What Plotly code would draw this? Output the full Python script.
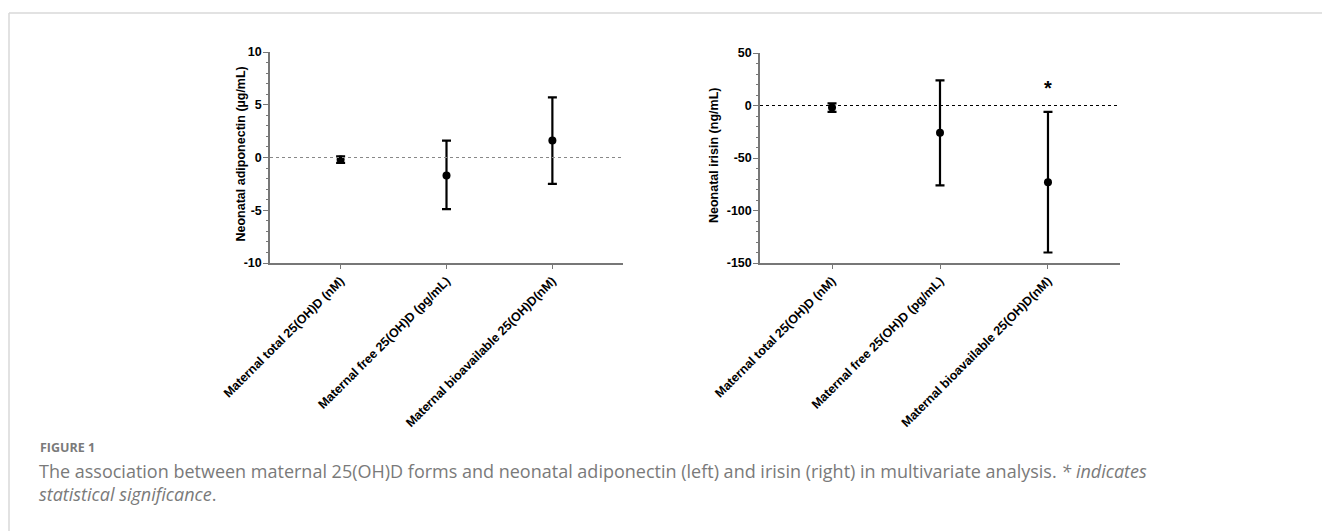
import plotly.graph_objects as go

W, H = 1322, 531

categories = ["Maternal total 25(OH)D (nM)", "Maternal free 25(OH)D (pg/mL)", "Maternal bioavailable 25(OH)D(nM)"]

adipo_est = [-0.2, -1.7, 1.6]
adipo_low = [-0.5, -4.9, -2.5]
adipo_high = [0.1, 1.6, 5.7]

irisin_est = [-2, -26, -73]
irisin_low = [-6, -76, -140]
irisin_high = [2, 24, -6]

star_y = 17

def px_x(p):
    return p / W

def px_y(p):
    return 1 - p / H

fig = go.Figure()

def add_series(est, low, high, xa, ya):
    fig.add_trace(go.Scatter(
        x=list(range(len(est))), y=est, mode="markers",
        marker=dict(color="black", size=8),
        error_y=dict(type="data", symmetric=False,
                     array=[h - e for h, e in zip(high, est)],
                     arrayminus=[e - l for e, l in zip(est, low)],
                     color="black", thickness=2.2, width=4.5),
        xaxis=xa, yaxis=ya, showlegend=False, hoverinfo="skip"))

add_series(adipo_est, adipo_low, adipo_high, "x", "y")
add_series(irisin_est, irisin_low, irisin_high, "x2", "y2")

axis_font = dict(family="Arial, Liberation Sans, sans-serif", size=12.5, color="black")
xcommon = dict(tickmode="array", tickvals=[0, 1, 2], ticktext=[f"<b>{c}</b>" for c in categories],
               tickangle=-45, range=[-0.667, 2.667], showgrid=False, zeroline=False,
               showline=True, linecolor="#777", linewidth=1.5, ticks="outside",
               ticklen=4, tickcolor="#777", tickfont=axis_font, automargin=False)
ycommon = dict(showgrid=False, zeroline=False, showline=True, linecolor="#777", linewidth=1.5,
               ticks="outside", ticklen=5, tickcolor="#777", tickfont=axis_font, automargin=False,
               ticklabelstandoff=-1)

Y_TOP_L, Y_TOP_R, Y_BOT = 52, 53, 263

fig.update_layout(
    width=W, height=H, margin=dict(l=0, r=0, t=0, b=0, autoexpand=False),
    paper_bgcolor="white", plot_bgcolor="white",
    xaxis=dict(domain=[px_x(270), px_x(623)], anchor="y", **xcommon),
    yaxis=dict(domain=[px_y(Y_BOT), px_y(Y_TOP_L)], anchor="x", range=[-10, 10],
               tickvals=[-10, -5, 0, 5, 10], ticktext=["<b>-10</b>", "<b>-5</b>", "<b>0</b>", "<b>5</b>", "<b>10</b>"],
               minor=dict(dtick=1, ticks="outside", ticklen=2, tickcolor="#777"),
               **ycommon),
    xaxis2=dict(domain=[px_x(760), px_x(1120)], anchor="y2", **xcommon),
    yaxis2=dict(domain=[px_y(Y_BOT), px_y(Y_TOP_R)], anchor="x2", range=[-150, 50],
                tickvals=[-150, -100, -50, 0, 50], ticktext=["<b>-150</b>", "<b>-100</b>", "<b>-50</b>", "<b>0</b>", "<b>50</b>"],
                minor=dict(dtick=10, ticks="outside", ticklen=2, tickcolor="#777"),
                **ycommon),
)

# y-axis titles
fig.add_annotation(x=px_x(240), y=px_y((Y_BOT + Y_TOP_L) / 2 - 3), xref="paper", yref="paper",
                   text="<b>Neonatal adiponectin (µg/mL)</b>", textangle=-90, showarrow=False,
                   xanchor="center", yanchor="middle", font=axis_font)
fig.add_annotation(x=px_x(714), y=px_y((Y_BOT + Y_TOP_R) / 2 - 3), xref="paper", yref="paper",
                   text="<b>Neonatal irisin (ng/mL)</b>", textangle=-90, showarrow=False,
                   xanchor="center", yanchor="middle", font=axis_font)

# zero reference lines
fig.add_shape(type="line", xref="x domain", yref="y", x0=0, x1=1, y0=0, y1=0,
              line=dict(color="#888", width=1.2, dash="dot"))
fig.add_shape(type="line", xref="x2 domain", yref="y2", x0=0, x1=1, y0=0, y1=0,
              line=dict(color="black", width=1.2, dash="dot"))

# significance star
fig.add_annotation(x=2, y=star_y, xref="x2", yref="y2", text="<b>*</b>", showarrow=False,
                   font=dict(family="Arial, Liberation Sans, sans-serif", size=20, color="black"))

# frame lines
fig.add_shape(type="line", xref="paper", yref="paper", x0=px_x(9), x1=1, y0=px_y(13), y1=px_y(13),
              line=dict(color="#d9d9d9", width=1.5))
fig.add_shape(type="line", xref="paper", yref="paper", x0=px_x(9), x1=px_x(9), y0=px_y(13), y1=0,
              line=dict(color="#d9d9d9", width=1.5))

cap_font = dict(family="Open Sans, sans-serif", size=18, color="#7a7a7a")
fig.add_annotation(x=px_x(39), y=px_y(447), xref="paper", yref="paper", xanchor="left", yanchor="middle",
                   text="<b>FIGURE 1</b>", showarrow=False, borderpad=0,
                   font=dict(family="Open Sans, sans-serif", size=12.5, color="#7a7a7a"))
fig.add_annotation(x=px_x(38), y=px_y(482), xref="paper", yref="paper", xanchor="left", yanchor="middle",
                   align="left", borderpad=0,
                   text="The association between maternal 25(OH)D forms and neonatal adiponectin (left) and irisin (right) in multivariate analysis. <i>* indicates</i><br><i>statistical significance</i>.",
                   showarrow=False, font=cap_font)

fig.write_html("out.html", config={"displayModeBar": False},
               post_script="document.body.style.margin='0';")
